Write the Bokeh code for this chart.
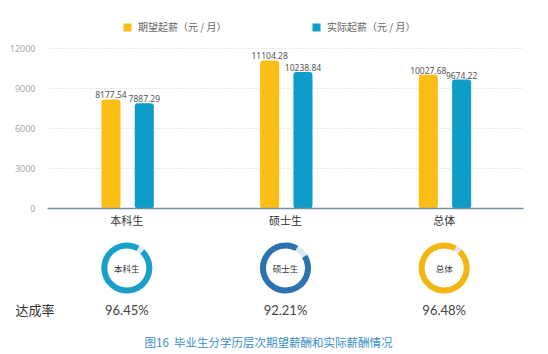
from bokeh.plotting import figure
from bokeh.models import (FactorRange, Range1d, FixedTicker, Legend, LegendItem,
                          Label, ColumnDataSource)
from bokeh.transform import dodge
from bokeh.layouts import column
from bokeh.core.properties import value
from bokeh.embed import file_html
from bokeh.resources import INLINE

# ---------------- data ----------------
categories = ["本科生", "硕士生", "总体"]
expected = [8177.54, 11104.28, 10027.68]
actual = [7887.29, 10238.84, 9674.22]
rates = [96.45, 92.21, 96.48]
y_ticks = [0, 3000, 6000, 9000, 12000]
series_names = ["期望起薪（元 / 月）", "实际起薪（元 / 月）"]
rate_title = "达成率"
caption = "图16\u00a0\u00a0毕业生分学历层次期望薪酬和实际薪酬情况"

# ---------------- styles ----------------
CJK = "Noto Sans CJK SC"
YELLOW = "#fbbd16"
BLUE = "#0e9dc8"
RING_COLORS = ["#1a9fcb", "#2a72b0", "#f3b512"]
RING_GAP = "#dde8ee"

src = ColumnDataSource(dict(
    cat=categories, exp=expected, act=actual,
    exp_lbl=["%.2f" % v for v in expected],
    act_lbl=["%.2f" % v for v in actual],
))

xr = FactorRange(factors=categories, range_padding=0)

TOP_H = 232
p = figure(x_range=xr, y_range=Range1d(0, 15600), width=548, height=TOP_H,
           output_backend="svg", toolbar_location=None,
           min_border_left=47, min_border_right=25,
           min_border_top=0, min_border_bottom=24)
p.outline_line_color = None
p.xgrid.visible = False
p.ygrid.ticker = FixedTicker(ticks=y_ticks)
p.ygrid.grid_line_color = "#d2d2d2"
p.ygrid.grid_line_dash = "1 2"

p.yaxis.ticker = FixedTicker(ticks=y_ticks)
p.yaxis.axis_line_color = None
p.yaxis.major_tick_line_color = None
p.yaxis.minor_tick_line_color = None
p.yaxis.major_label_text_color = "#a8a8a8"
p.yaxis.major_label_text_font_size = "9px"
p.yaxis.major_label_text_font = "Noto Sans"
p.yaxis.major_label_standoff = 6

p.xaxis.axis_line_color = "#7b8e9a"
p.xaxis.axis_line_width = 1.6
p.xaxis.major_tick_line_color = None
p.xaxis.major_label_text_font_size = "11px"
p.xaxis.major_label_text_font = CJK
p.xaxis.major_label_text_color = "#333333"
p.xaxis.major_label_standoff = -3

r1 = p.vbar(x=dodge("cat", -0.1, range=xr), top="exp", width=0.12, source=src,
            fill_color=YELLOW, line_color=None, border_radius=3)
r2 = p.vbar(x=dodge("cat", 0.11, range=xr), top="act", width=0.12, source=src,
            fill_color=BLUE, line_color=None, border_radius=3)

p.text(x=dodge("cat", -0.1, range=xr), y="exp", text="exp_lbl", source=src,
       text_align="center", text_baseline="bottom", y_offset=-1,
       text_font_size="8.5px", text_color="#555555", text_font=value("Noto Sans"))
p.text(x=dodge("cat", 0.11, range=xr), y="act", text="act_lbl", source=src,
       text_align="center", text_baseline="bottom", y_offset=-1,
       text_font_size="8.5px", text_color="#555555", text_font=value("Noto Sans"))

for name, rend, xloc in [(series_names[0], r1, 75), (series_names[1], r2, 264)]:
    leg = Legend(items=[LegendItem(label=name, renderers=[rend])], location=(xloc, 174),
                 border_line_color=None, background_fill_alpha=0, padding=0, margin=0,
                 glyph_width=10, glyph_height=10, label_height=10, label_standoff=6,
                 label_text_font_size="10px", label_text_color="#666666",
                 label_text_font=CJK)
    p.add_layout(leg)

# ---------------- bottom: achievement rate rings ----------------
BOT_H = 354 - TOP_H
RING_Y = 267.5 - TOP_H
PCT_Y = 309 - TOP_H
CAP_Y = 341 - TOP_H
q = figure(x_range=xr, y_range=Range1d(BOT_H, 0), width=548, height=BOT_H,
           output_backend="svg", toolbar_location=None,
           x_axis_location=None, y_axis_location="left",
           min_border_left=47, min_border_right=25,
           min_border_top=0, min_border_bottom=0)
q.outline_line_color = None
q.grid.visible = False
q.yaxis.ticker = FixedTicker(ticks=[PCT_Y])
q.yaxis.major_label_overrides = {PCT_Y: rate_title}
q.yaxis.axis_line_color = None
q.yaxis.major_tick_line_color = None
q.yaxis.minor_tick_line_color = None
q.yaxis.major_label_text_font = CJK
q.yaxis.major_label_text_font_size = "13px"
q.yaxis.major_label_text_color = "#333333"
q.yaxis.major_label_standoff = -13

start_deg = 60.0
gap_deg = [(100 - r) * 3.6 for r in rates]
ring = ColumnDataSource(dict(
    cat=categories,
    y=[RING_Y] * 3,
    col=RING_COLORS,
    a0=[start_deg for g in gap_deg],
    a1=[start_deg - g + 360 for g in gap_deg],
    g0=[start_deg - g for g in gap_deg],
    g1=[start_deg for g in gap_deg],
    lbl=["%.2f%%" % r for r in rates],
    py=[PCT_Y] * 3,
))
q.annular_wedge(x="cat", y="y", inner_radius=19.5, outer_radius=25.5,
                inner_radius_units="screen", outer_radius_units="screen",
                start_angle="a0", end_angle="a1", start_angle_units="deg",
                end_angle_units="deg", direction="anticlock",
                fill_color="col", line_color=None, source=ring)
q.annular_wedge(x="cat", y="y", inner_radius=19.5, outer_radius=25.5,
                inner_radius_units="screen", outer_radius_units="screen",
                start_angle="g0", end_angle="g1", start_angle_units="deg",
                end_angle_units="deg", direction="anticlock",
                fill_color=RING_GAP, line_color=None, source=ring)
q.text(x="cat", y="y", text="cat", source=ring, text_align="center",
       text_baseline="middle", text_font_size="8.5px", text_color="#333333",
       text_font=value(CJK))
q.text(x="cat", y="py", text="lbl", source=ring, text_align="center",
       text_baseline="middle", text_font_size="13px", text_color="#444444",
       text_font=value("Lato"))

q.add_layout(Label(x=221, y=CAP_Y, x_units="screen", text=caption,
                   text_align="center", text_baseline="middle",
                   text_font_size="11.5px", text_color="#3a8ec7", text_font=CJK))

layout = column(p, q, spacing=0)
open("out.html", "w").write(file_html(layout, INLINE))
